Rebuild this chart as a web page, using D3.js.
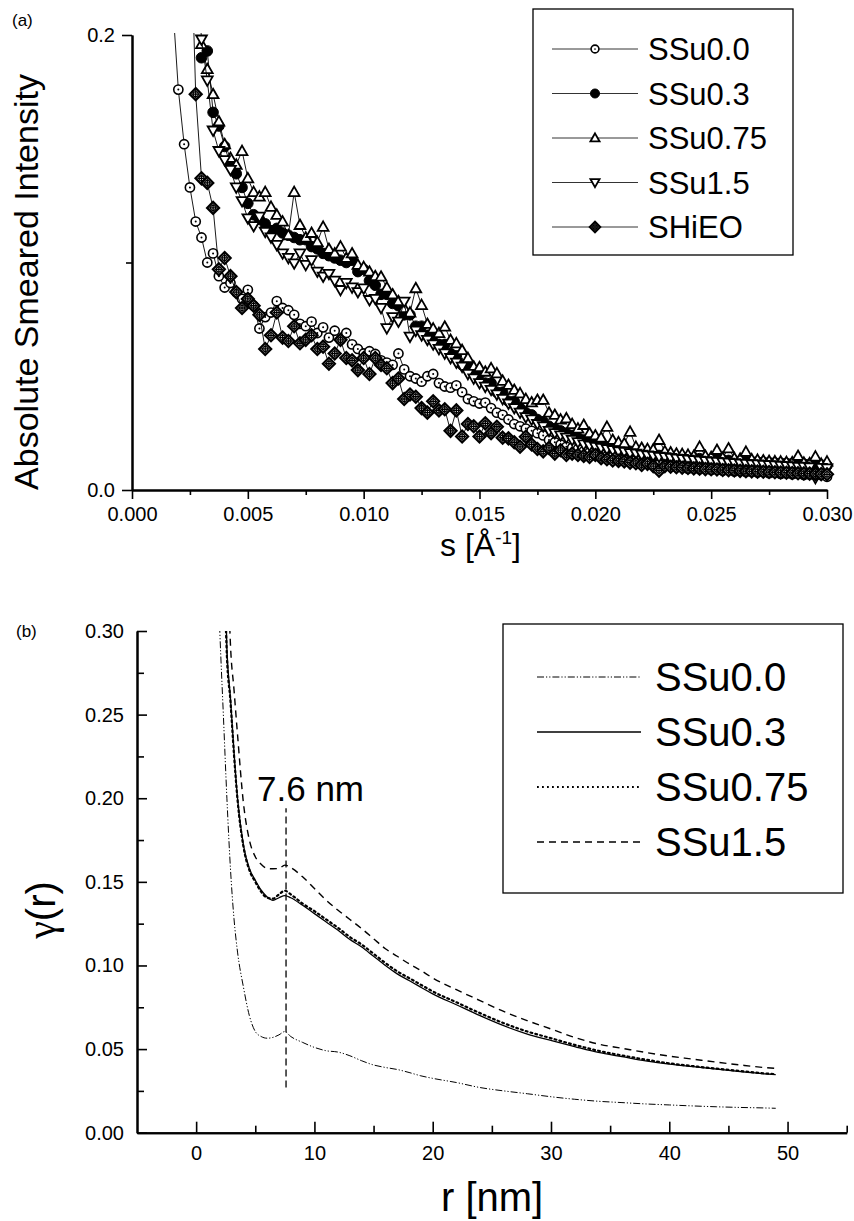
<!DOCTYPE html>
<html>
<head>
<meta charset="utf-8">
<script src="https://cdn.jsdelivr.net/npm/d3@7"></script>
<style>
  body { margin: 0; background: #fff; }
  text { font-family: "Liberation Sans", Arial, sans-serif; fill: #000; }
</style>
</head>
<body>
<svg id="chart"></svg>
<script>
// ---- panel (a): absolute smeared intensity vs s ----
const sValues = [
  0.00175, 0.0020, 0.00225, 0.0025, 0.00275, 0.0030, 0.00325, 0.0035, 0.00375, 0.0040,
  0.00425, 0.0045, 0.00475, 0.0050, 0.00525, 0.0055, 0.00575, 0.0060, 0.00625, 0.0065,
  0.00675, 0.0070, 0.00725, 0.0075, 0.00775, 0.0080, 0.00825, 0.0085, 0.00875, 0.0090,
  0.00925, 0.0095, 0.00975, 0.0100, 0.01025, 0.0105, 0.01075, 0.0110, 0.01125, 0.0115,
  0.01175, 0.0120, 0.01225, 0.0125, 0.01275, 0.0130, 0.01325, 0.0135, 0.01375, 0.0140,
  0.01425, 0.0145, 0.01475, 0.0150, 0.01525, 0.0155, 0.01575, 0.0160, 0.01625, 0.0165,
  0.01675, 0.0170, 0.01725, 0.0175, 0.01775, 0.0180, 0.01825, 0.0185, 0.01875, 0.0190,
  0.01925, 0.0195, 0.01975, 0.0200, 0.02025, 0.0205, 0.02075, 0.0210, 0.02125, 0.0215,
  0.02175, 0.0220, 0.02225, 0.0225, 0.02275, 0.0230, 0.02325, 0.0235, 0.02375, 0.0240,
  0.02425, 0.0245, 0.02475, 0.0250, 0.02525, 0.0255, 0.02575, 0.0260, 0.02625, 0.0265,
  0.02675, 0.0270, 0.02725, 0.0275, 0.02775, 0.0280, 0.02825, 0.0285, 0.02875, 0.0290,
  0.02925, 0.0295, 0.02975, 0.0300
];

const ssu00 = [
  0.215, 0.176, 0.152, 0.133, 0.118, 0.111, 0.100, 0.104, 0.094, 0.089,
  0.091, 0.087, 0.084, 0.088, 0.081, 0.071, 0.076, 0.078, 0.083, 0.080,
  0.079, 0.077, 0.073, 0.072, 0.074, 0.069, 0.0715, 0.067, 0.070, 0.066,
  0.069, 0.064, 0.062, 0.060, 0.061, 0.0598, 0.057, 0.056, 0.055, 0.060,
  0.053, 0.050, 0.049, 0.0476, 0.050, 0.051, 0.047, 0.0455, 0.045, 0.046,
  0.043, 0.040, 0.039, 0.038, 0.0384, 0.036, 0.034, 0.033, 0.031, 0.029,
  0.028, 0.027, 0.026, 0.025, 0.024, 0.022, 0.021, 0.020, 0.019, 0.0185,
  0.018, 0.017, 0.0165, 0.016, 0.0158, 0.0148, 0.0147, 0.0138, 0.0136, 0.0128,
  0.0130, 0.0120, 0.0120, 0.0113, 0.0112, 0.0106, 0.0106, 0.0100, 0.0100, 0.0094,
  0.0097, 0.0091, 0.0094, 0.0088, 0.0090, 0.0085, 0.0087, 0.0082, 0.0085, 0.0079,
  0.0081, 0.0077, 0.0079, 0.0074, 0.0076, 0.0071, 0.0073, 0.0069, 0.0071, 0.0066,
  0.0068, 0.0064, 0.0066, 0.0058
];

const ssu03 = [
  null, null, null, null, null, 0.190, 0.193, 0.166, 0.160, 0.151,
  0.143, 0.139, 0.133, 0.126, 0.121, 0.119, 0.117, 0.114, 0.115, 0.113,
  0.112, 0.111, 0.110, 0.110, 0.107, 0.106, 0.104, 0.103, 0.102, 0.101,
  0.100, 0.101, 0.096, 0.097, 0.092, 0.090, 0.086, 0.086, 0.082, 0.081,
  0.077, 0.077, 0.072, 0.072, 0.068, 0.068, 0.064, 0.064, 0.060, 0.059,
  0.055, 0.055, 0.051, 0.051, 0.047, 0.047, 0.043, 0.043, 0.039, 0.039,
  0.036, 0.034, 0.033, 0.031, 0.030, 0.028, 0.027, 0.026, 0.025, 0.024,
  0.023, 0.022, 0.021, 0.0205, 0.020, 0.019, 0.0185, 0.018, 0.0175, 0.017,
  0.0168, 0.0165, 0.016, 0.0155, 0.0152, 0.015, 0.0148, 0.0146, 0.0144, 0.0142,
  0.014, 0.0138, 0.0136, 0.0135, 0.0134, 0.0132, 0.013, 0.0128, 0.0127, 0.0126,
  0.0125, 0.0123, 0.0122, 0.012, 0.0119, 0.0118, 0.0117, 0.0116, 0.0115, 0.0114,
  0.0113, 0.0112, 0.011, 0.0108
];

const ssu075 = [
  null, null, null, null, null, 0.196, 0.185, 0.174, 0.162, 0.152,
  0.146, 0.143, 0.149, 0.137, 0.131, 0.129, 0.131, 0.1245, 0.121, 0.118,
  0.112, 0.131, 0.1165, 0.111, 0.113, 0.109, 0.1157, 0.106, 0.104, 0.107,
  0.102, 0.104, 0.099, 0.098, 0.096, 0.094, 0.0938, 0.089, 0.086, 0.083,
  0.080, 0.078, 0.0887, 0.0813, 0.073, 0.071, 0.069, 0.0718, 0.066, 0.0645,
  0.0615, 0.058, 0.0542, 0.054, 0.052, 0.0535, 0.0513, 0.048, 0.0462, 0.044,
  0.0425, 0.040, 0.0385, 0.0396, 0.0396, 0.034, 0.033, 0.031, 0.0315, 0.029,
  0.027, 0.0286, 0.025, 0.024, 0.023, 0.0278, 0.022, 0.021, 0.0205, 0.0256,
  0.019, 0.0185, 0.018, 0.0178, 0.022, 0.017, 0.0165, 0.016, 0.0158, 0.0155,
  0.015, 0.019, 0.015, 0.0145, 0.0176, 0.0142, 0.0183, 0.014, 0.0138, 0.0168,
  0.0135, 0.0133, 0.013, 0.0128, 0.0126, 0.0125, 0.0123, 0.0122, 0.015, 0.012,
  0.0118, 0.0147, 0.0115, 0.0125
];

const ssu15 = [
  null, null, null, null, 0.24, 0.198, 0.180, 0.158, 0.149, 0.145,
  0.1407, 0.133, 0.127, 0.1194, 0.116, 0.1201, 0.1135, 0.111, 0.1077, 0.104,
  0.102, 0.0996, 0.104, 0.0989, 0.101, 0.096, 0.0938, 0.095, 0.092, 0.0879,
  0.091, 0.089, 0.087, 0.0886, 0.0835, 0.084, 0.080, 0.0711, 0.076, 0.074,
  0.0828, 0.0674, 0.070, 0.068, 0.066, 0.064, 0.062, 0.060, 0.058, 0.056,
  0.0542, 0.051, 0.049, 0.047, 0.0454, 0.044, 0.042, 0.040, 0.038, 0.036,
  0.034, 0.032, 0.031, 0.029, 0.028, 0.026, 0.025, 0.024, 0.023, 0.022,
  0.021, 0.020, 0.0195, 0.019, 0.0185, 0.018, 0.0175, 0.017, 0.0168, 0.0162,
  0.016, 0.0155, 0.0152, 0.015, 0.0146, 0.0144, 0.0141, 0.0138, 0.0136, 0.0133,
  0.0131, 0.0129, 0.0127, 0.0125, 0.0123, 0.0121, 0.012, 0.0118, 0.0116, 0.0115,
  0.0113, 0.0112, 0.011, 0.0109, 0.0108, 0.0106, 0.0105, 0.0104, 0.0102, 0.0101,
  0.0099, 0.0053, 0.0097, 0.0095
];

const shieo = [
  null, null, null, 0.26, 0.174, 0.137, 0.135, 0.124, 0.097, 0.102,
  0.094, 0.087, 0.080, 0.084, 0.081, 0.077, 0.062, 0.068, 0.078, 0.067,
  0.0655, 0.072, 0.0645, 0.066, 0.068, 0.062, 0.063, 0.0555, 0.060, 0.066,
  0.058, 0.057, 0.0527, 0.058, 0.051, 0.058, 0.055, 0.0535, 0.047, 0.049,
  0.040, 0.042, 0.041, 0.036, 0.034, 0.039, 0.035, 0.0355, 0.026, 0.035,
  0.0235, 0.029, 0.028, 0.0235, 0.0293, 0.025, 0.0278, 0.023, 0.0227, 0.021,
  0.019, 0.0234, 0.020, 0.018, 0.017, 0.0185, 0.016, 0.0175, 0.0154, 0.016,
  0.0154, 0.015, 0.0145, 0.0154, 0.014, 0.0135, 0.013, 0.0128, 0.0125, 0.012,
  0.0118, 0.011, 0.0115, 0.0105, 0.0085, 0.0105, 0.0102, 0.0100, 0.0098, 0.0097,
  0.0095, 0.0094, 0.0092, 0.0091, 0.0090, 0.0088, 0.0087, 0.0086, 0.0084, 0.0083,
  0.0082, 0.0081, 0.0080, 0.0079, 0.0078, 0.0077, 0.0076, 0.0075, 0.0074, 0.0073,
  0.0072, 0.0071, 0.0070, 0.0069
];

const namesA = ['SSu0.0', 'SSu0.3', 'SSu0.75', 'SSu1.5', 'SHiEO'];
const valuesA = [ssu00, ssu03, ssu075, ssu15, shieo];
const symbolsA = ['dotCircle', 'filledCircle', 'triUp', 'triDown', 'crossDiamond'];
const xTicksA = [0, 0.005, 0.010, 0.015, 0.020, 0.025, 0.030];
const xMinorA = [0.0025, 0.0075, 0.0125, 0.0175, 0.0225, 0.0275];
const yTicksA = [0.0, 0.2];
const yMinorA = [0.1];

// ---- panel (b): correlation function gamma(r) ----
const rValues = [
  1.8, 2.0, 2.3, 2.6, 2.9, 3.2, 3.5, 4.0, 4.5, 5.0, 5.5, 6.0, 6.5, 7.0, 7.5, 8.0,
  9, 10, 11, 12, 13, 14, 15, 16, 17, 18, 19, 20, 22, 24, 26, 28, 30, 32, 34, 36,
  38, 40, 42, 44, 46, 48, 49
];
const gSSu00 = [
  0.34, 0.30, 0.25, 0.20, 0.158, 0.128, 0.108, 0.087, 0.070, 0.0605, 0.0575, 0.0565, 0.057, 0.0585, 0.0605, 0.0575,
  0.054, 0.051, 0.049, 0.0482, 0.046, 0.043, 0.0405, 0.039, 0.0378, 0.036, 0.034, 0.0325, 0.030, 0.027, 0.025, 0.0233, 0.0215, 0.020, 0.0188, 0.018,
  0.0172, 0.0166, 0.016, 0.0155, 0.0151, 0.0148, 0.0146
];
const gSSu03 = [
  null, null, 0.37, 0.29, 0.26, 0.228, 0.20, 0.172, 0.158, 0.151, 0.145, 0.141, 0.139, 0.1405, 0.1418, 0.1405,
  0.136, 0.131, 0.126, 0.121, 0.1155, 0.111, 0.1055, 0.100, 0.095, 0.091, 0.087, 0.083, 0.0765, 0.070, 0.064, 0.059, 0.0552, 0.0515, 0.048, 0.0455,
  0.043, 0.041, 0.0395, 0.038, 0.0365, 0.0352, 0.0347
];
const gSSu075 = [
  null, null, 0.36, 0.285, 0.258, 0.226, 0.199, 0.171, 0.157, 0.150, 0.144, 0.1405, 0.140, 0.1425, 0.1447, 0.1425,
  0.137, 0.1325, 0.1275, 0.1225, 0.117, 0.1125, 0.107, 0.1015, 0.0965, 0.0925, 0.0885, 0.0845, 0.078, 0.0715, 0.0655, 0.0605, 0.0565, 0.0525, 0.049, 0.0462,
  0.0437, 0.0415, 0.0398, 0.0383, 0.0369, 0.0355, 0.035
];
const gSSu15 = [
  null, null, null, 0.36, 0.292, 0.265, 0.238, 0.197, 0.175, 0.165, 0.1605, 0.158, 0.1578, 0.158, 0.160, 0.1585,
  0.153, 0.146, 0.139, 0.133, 0.1275, 0.122, 0.116, 0.110, 0.1055, 0.101, 0.097, 0.0925, 0.0855, 0.079, 0.0725, 0.067, 0.062, 0.057, 0.053, 0.0505,
  0.048, 0.0458, 0.044, 0.0422, 0.0405, 0.039, 0.0385
];
const namesB = ['SSu0.0', 'SSu0.3', 'SSu0.75', 'SSu1.5'];
const valuesB = [gSSu00, gSSu03, gSSu075, gSSu15];
const xTicksB = [0, 10, 20, 30, 40, 50];
const xMinorB = [5, 15, 25, 35, 45, 55];
const yTicksB = [0.00, 0.05, 0.10, 0.15, 0.20, 0.25, 0.30];
const yMinorB = [0.025, 0.075, 0.125, 0.175, 0.225, 0.275];
const peakR = 7.6;
const peakLine = [0.027, 0.194];

// line styles for panel (b)
const dashB = [
  { dash: '7,2,1.2,2,1.2,2', width: 1 },
  { dash: null, width: 1.3 },
  { dash: '1.8,3.2', width: 2.2 },
  { dash: '7,5', width: 1.4 }
];

const width = 854;
const height = 1221;
const svg = d3.select('#chart').attr('width', width).attr('height', height);
const font = '"Liberation Sans", Arial, sans-serif';

// symbol drawing
const drawSymbol = (g, type, scale = 1) => {
  if (type === 'dotCircle') {
    g.append('circle').attr('r', 4.6 * scale).attr('fill', '#fff').attr('stroke', '#000').attr('stroke-width', 1.6);
    g.append('circle').attr('r', 1 * scale).attr('fill', '#000');
  } else if (type === 'filledCircle') {
    g.append('circle').attr('r', 5.3 * scale).attr('fill', '#000').attr('stroke', '#000').attr('stroke-width', 1);
  } else if (type === 'triUp') {
    const s = 5.4 * scale;
    g.append('path').attr('d', `M0,${-s} L${s},${s * 0.75} L${-s},${s * 0.75} Z`)
      .attr('fill', '#fff').attr('stroke', '#000').attr('stroke-width', 1.8);
  } else if (type === 'triDown') {
    const s = 5.4 * scale;
    g.append('path').attr('d', `M0,${s} L${s},${-s * 0.75} L${-s},${-s * 0.75} Z`)
      .attr('fill', '#fff').attr('stroke', '#000').attr('stroke-width', 1.8);
  } else if (type === 'crossDiamond') {
    const s = 6 * scale;
    g.append('path').attr('d', `M0,${-s} L${s},0 L0,${s} L${-s},0 Z`)
      .attr('fill', '#fff').attr('stroke', '#000').attr('stroke-width', 2.2);
    g.append('circle').attr('r', 2.6 * scale).attr('fill', 'none').attr('stroke', '#000').attr('stroke-width', 1.3);
    g.append('path').attr('d', `M${-s * 0.7},0 L${s * 0.7},0 M0,${-s * 0.7} L0,${s * 0.7}`)
      .attr('stroke', '#000').attr('stroke-width', 1.3);
  }
};

// ================= panel (a) =================
const xA = d3.scaleLinear().domain([0, 0.03]).range([132, 827]);
const yA = d3.scaleLinear().domain([0, 0.2]).range([490, 35]);

svg.append('clipPath').attr('id', 'clipA')
  .append('rect').attr('x', 120).attr('y', 33).attr('width', 725).attr('height', 465);

const plotA = svg.append('g').attr('clip-path', 'url(#clipA)');
const lineA = d3.line()
  .defined((d) => d[1] != null)
  .x((d) => xA(d[0]))
  .y((d) => yA(d[1]));

valuesA.forEach((vals, k) => {
  const pts = sValues.map((s, i) => [s, vals[i]]);
  plotA.append('path').datum(pts).attr('d', lineA)
    .attr('fill', 'none').attr('stroke', '#000').attr('stroke-width', 0.9);
  pts.filter((d) => d[1] != null).forEach((d) => {
    const g = plotA.append('g').attr('transform', `translate(${xA(d[0])},${yA(d[1])})`);
    drawSymbol(g, symbolsA[k]);
  });
});

// axes (a)
const styleAxis = (g) => {
  g.select('.domain').attr('stroke-width', 2);
  g.selectAll('.tick line').attr('stroke-width', 1.6);
  g.selectAll('.tick text').attr('font-size', 20).attr('font-family', font);
};

svg.append('g').attr('transform', 'translate(0,490)')
  .call(d3.axisBottom(xA).tickValues(xTicksA).tickFormat(d3.format('.3f')).tickSize(9).tickSizeOuter(0).tickPadding(8))
  .call(styleAxis);
svg.append('g').attr('transform', 'translate(0,490)')
  .call(d3.axisBottom(xA).tickValues(xMinorA).tickFormat('').tickSize(5).tickSizeOuter(0))
  .call(styleAxis);
svg.append('g').attr('transform', 'translate(132,0)')
  .call(d3.axisLeft(yA).tickValues(yTicksA).tickFormat(d3.format('.1f')).tickSize(10).tickSizeOuter(0).tickPadding(7))
  .call(styleAxis);
svg.append('g').attr('transform', 'translate(132,0)')
  .call(d3.axisLeft(yA).tickValues(yMinorA).tickFormat('').tickSize(6).tickSizeOuter(0))
  .call(styleAxis);

svg.append('text').attr('x', 12).attr('y', 26).attr('font-size', 17).text('(a)');
svg.append('text')
  .attr('transform', 'translate(38,282) rotate(-90)')
  .attr('text-anchor', 'middle').attr('font-size', 34)
  .text('Absolute Smeared Intensity');
const xLabelA = svg.append('text').attr('x', 440).attr('y', 556).attr('font-size', 32);
xLabelA.append('tspan').text('s [Å');
xLabelA.append('tspan').attr('font-size', 19).attr('dy', -12).text('-1');
xLabelA.append('tspan').attr('dy', 12).text(']');

// legend (a)
const legA = svg.append('g');
legA.append('rect').attr('x', 533).attr('y', 9).attr('width', 260).attr('height', 246)
  .attr('fill', '#fff').attr('stroke', '#000').attr('stroke-width', 1.3);
namesA.forEach((name, k) => {
  const yy = 49 + k * 44.5;
  legA.append('line').attr('x1', 552).attr('x2', 638).attr('y1', yy).attr('y2', yy)
    .attr('stroke', '#000').attr('stroke-width', 0.8);
  drawSymbol(legA.append('g').attr('transform', `translate(595,${yy})`), symbolsA[k], 0.85);
  legA.append('text').attr('x', 648).attr('y', yy + 11).attr('font-size', 31).text(name);
});

// ================= panel (b) =================
const xB = d3.scaleLinear().domain([-5, 55]).range([137, 846.7]);
const yB = d3.scaleLinear().domain([0, 0.30]).range([1132.7, 631]);

svg.append('clipPath').attr('id', 'clipB')
  .append('rect').attr('x', 137).attr('y', 631).attr('width', 710).attr('height', 502);

const plotB = svg.append('g').attr('clip-path', 'url(#clipB)');
const lineB = d3.line()
  .defined((d) => d[1] != null)
  .x((d) => xB(d[0]))
  .y((d) => yB(d[1]))
  .curve(d3.curveMonotoneX);

valuesB.forEach((vals, k) => {
  const pts = rValues.map((r, i) => [r, vals[i]]);
  plotB.append('path').datum(pts).attr('d', lineB)
    .attr('fill', 'none').attr('stroke', '#000')
    .attr('stroke-width', dashB[k].width)
    .attr('stroke-dasharray', dashB[k].dash)
    .attr('stroke-linecap', k === 2 ? 'round' : 'butt');
});

// peak marker
svg.append('line')
  .attr('x1', xB(peakR)).attr('x2', xB(peakR))
  .attr('y1', yB(peakLine[0])).attr('y2', yB(peakLine[1]))
  .attr('stroke', '#000').attr('stroke-width', 1.3).attr('stroke-dasharray', '7,4');
svg.append('text').attr('x', 257).attr('y', 801).attr('font-size', 35).text(`${peakR} nm`);

// axes (b), ticks point inward
svg.append('g').attr('transform', 'translate(0,1132.7)')
  .call(d3.axisBottom(xB).tickValues(xTicksB).tickFormat(d3.format('d')).tickSize(-11).tickSizeOuter(0).tickPadding(13))
  .call(styleAxis);
svg.append('g').attr('transform', 'translate(0,1132.7)')
  .call(d3.axisBottom(xB).tickValues(xMinorB).tickFormat('').tickSize(-7).tickSizeOuter(0))
  .call(styleAxis);
svg.append('g').attr('transform', 'translate(137,0)')
  .call(d3.axisLeft(yB).tickValues(yTicksB).tickFormat(d3.format('.2f')).tickSize(-10).tickSizeOuter(0).tickPadding(13))
  .call(styleAxis);
svg.append('g').attr('transform', 'translate(137,0)')
  .call(d3.axisLeft(yB).tickValues(yMinorB).tickFormat('').tickSize(-7).tickSizeOuter(0))
  .call(styleAxis);

svg.append('text').attr('x', 16).attr('y', 637).attr('font-size', 17).text('(b)');
const yLabelB = svg.append('text')
  .attr('transform', 'translate(55,910) rotate(-90)')
  .attr('text-anchor', 'middle').attr('font-size', 40);
yLabelB.append('tspan').attr('font-family', '"Liberation Serif", "DejaVu Serif", serif').text('γ');
yLabelB.append('tspan').text('(r)');
svg.append('text').attr('x', 441).attr('y', 1211).attr('font-size', 40).text('r [nm]');

// legend (b)
const legB = svg.append('g');
legB.append('rect').attr('x', 503).attr('y', 624).attr('width', 340).attr('height', 269)
  .attr('fill', '#fff').attr('stroke', '#000').attr('stroke-width', 1.3);
namesB.forEach((name, k) => {
  const yy = 677 + k * 55;
  legB.append('line').attr('x1', 537).attr('x2', 641).attr('y1', yy).attr('y2', yy)
    .attr('stroke', '#000').attr('stroke-width', dashB[k].width)
    .attr('stroke-dasharray', dashB[k].dash);
  legB.append('text').attr('x', 655).attr('y', yy + 14).attr('font-size', 40).text(name);
});
</script>
</body>
</html>
